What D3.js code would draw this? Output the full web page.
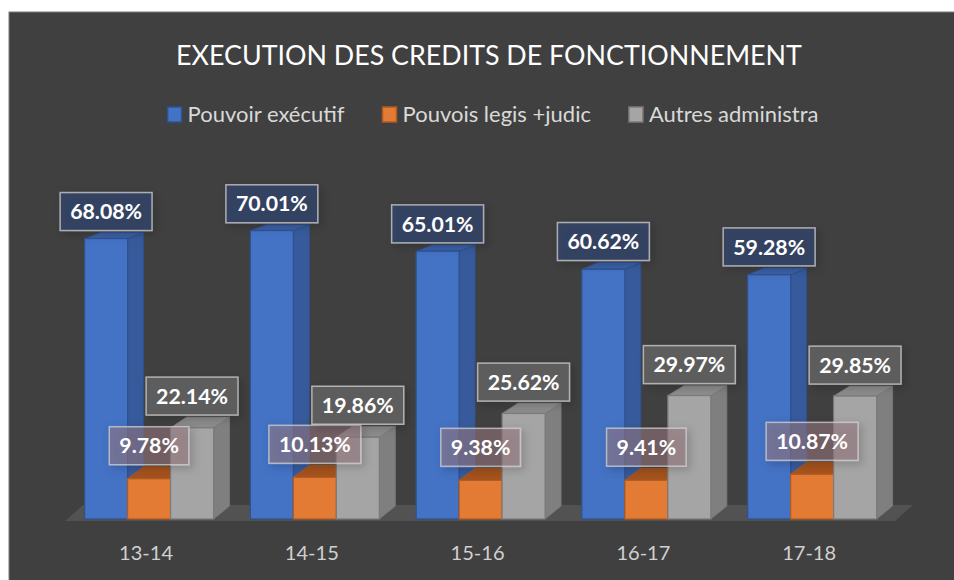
<!DOCTYPE html>
<html><head><meta charset="utf-8">
<script src="https://cdn.jsdelivr.net/npm/d3@7"></script>
<style>
html,body{margin:0;padding:0;background:#fff;}
svg{display:block;}
</style></head>
<body>
<svg id="chart" width="954" height="580"></svg>
<script>
// ---- data ----
const categories = ["13-14", "14-15", "15-16", "16-17", "17-18"];
const seriesNames = ["Pouvoir exécutif", "Pouvois legis +judic", "Autres administra"];
const executif = [68.08, 70.01, 65.01, 60.62, 59.28];
const legisJudic = [9.78, 10.13, 9.38, 9.41, 10.87];
const autres = [22.14, 19.86, 25.62, 29.97, 29.85];
const titleText = "EXECUTION DES CREDITS DE FONCTIONNEMENT";

const seriesValues = [executif, legisJudic, autres];
const FONT = "Lato, 'Open Sans', sans-serif";

const styles = [
  {front:"#4472c4", side:"#375a9c", top:"#3b60a6", stroke:"#2f528f",
   lblFill:"rgba(46,72,124,0.55)"},
  {front:"#e47b34", side:"#a9561f", top:"#a4521d", stroke:"#ae5a21",
   lblFill:"rgba(150,118,128,0.55)"},
  {front:"#a5a5a5", side:"#7f7f7f", top:"#8c8c8c", stroke:"#7b7b7b",
   lblFill:"rgba(116,116,116,0.55)"}
];

const svg = d3.select("#chart");
const defs = svg.append("defs");
const f = defs.append("filter").attr("id","shadow").attr("x","-30%").attr("y","-30%").attr("width","160%").attr("height","170%");
f.append("feDropShadow").attr("dx",3).attr("dy",3).attr("stdDeviation",4)
  .attr("flood-color","#000").attr("flood-opacity",0.3);

// background
svg.append("rect").attr("x",9).attr("y",12).attr("width",960).attr("height",580)
  .attr("fill","#404040").attr("stroke","#7a7a7a").attr("stroke-width",1);

// helper to fit font size to a measured target width
function fitSize(sample, weight, base, target){
  const t = svg.append("text").attr("font-family",FONT).attr("font-weight",weight)
    .attr("font-size",base).text(sample);
  const w = t.node().getComputedTextLength();
  t.remove();
  return base * target / w;
}
const titleSize = fitSize(titleText, 400, 30, 626);
const legendSize = fitSize(seriesNames[0], 400, 22, 157);
const axisSize = fitSize(categories[0], 400, 22, 54);
const labelSize = fitSize("68.08%", 700, 22, 72);

const cx = 489;
// title
svg.append("text").attr("x",cx).attr("y",65).attr("text-anchor","middle")
  .attr("font-family",FONT).attr("font-size",titleSize).attr("fill","#ffffff")
  .text(titleText);

// legend
const leg = svg.append("g");
let lx = 0;
seriesNames.forEach((n,i)=>{
  const g = leg.append("g").attr("transform",`translate(${lx},0)`);
  g.append("rect").attr("x",0).attr("y",107).attr("width",14).attr("height",15)
    .attr("fill",styles[i].front).attr("stroke",styles[i].stroke).attr("stroke-width",1.5);
  const t = g.append("text").attr("x",20).attr("y",122).attr("font-family",FONT)
    .attr("font-size",legendSize).attr("fill","#d9d9d9").text(n);
  const w = t.node().getComputedTextLength();
  lx += 20 + w + 38;
});
const legW = lx - 38;
leg.attr("transform",`translate(${(167+819)/2 - legW/2},0)`);

// scales
const y = d3.scaleLinear().domain([0,70]).range([519, 519 - 70*4.12]);
const x = d3.scaleBand().domain(categories).range([66.2, 895]).paddingInner(0.222).paddingOuter(0.111);
const xs = d3.scaleBand().domain(d3.range(seriesNames.length)).range([0, x.bandwidth()]);

const DX = 16;
const depthY = yy => 0.025*yy;
const yb = y(0);
const dyb = depthY(yb);

// floor
const [r0, r1] = x.range();
svg.append("polygon")
  .attr("points",[[r0-1,yb+2],[r1,yb+2],[r1+18,yb-14],[r0+17,yb-14]].map(p=>p.join(",")).join(" "))
  .attr("fill","#525252");

// bars
const barsG = svg.append("g");
const labels = [];
categories.forEach((c,ci)=>{
  seriesValues.forEach((vals,si)=>{
    const v = vals[ci];
    const x1 = x(c) + xs(si), x2 = x1 + xs.bandwidth();
    const yt = y(v);
    const dy = depthY(yt);
    const st = styles[si];
    barsG.append("polygon")
      .attr("points",[[x2,yt],[x2+DX,yt-dy],[x2+DX,yb-dyb],[x2,yb]].map(p=>p.join(",")).join(" "))
      .attr("fill",st.side).attr("stroke",st.stroke).attr("stroke-width",0.8);
    barsG.append("polygon")
      .attr("points",[[x1,yt],[x2,yt],[x2+DX,yt-dy],[x1+DX,yt-dy]].map(p=>p.join(",")).join(" "))
      .attr("fill",st.top).attr("stroke",st.stroke).attr("stroke-width",0.8);
    barsG.append("rect").attr("x",x1).attr("y",yt).attr("width",x2-x1).attr("height",yb-yt)
      .attr("fill",st.front).attr("stroke",st.stroke).attr("stroke-width",1.2);
    labels.push({cx:(x1+x2)/2, bottom: yt-dy-2, v, si});
  });
});

// data labels
const lblG = svg.append("g");
labels.forEach(l=>{
  const g = lblG.append("g");
  const r = g.append("rect");
  const t = g.append("text").attr("x",l.cx).attr("y",l.bottom-19).attr("dy","0.36em")
    .attr("text-anchor","middle").attr("font-family",FONT).attr("font-weight",700)
    .attr("font-size",labelSize).attr("fill","#ffffff").text(l.v.toFixed(2)+"%");
  const w = t.node().getComputedTextLength() + 20;
  r.attr("x",l.cx - w/2).attr("y",l.bottom-38).attr("width",w).attr("height",38)
    .attr("fill",styles[l.si].lblFill).attr("stroke","rgba(210,210,210,0.75)").attr("stroke-width",1.5)
    .attr("filter","url(#shadow)");
});

// category axis labels
svg.append("g").selectAll("text").data(categories).join("text")
  .attr("x",d=>x(d)+x.bandwidth()/2-3).attr("y",560).attr("text-anchor","middle")
  .attr("font-family",FONT).attr("font-size",axisSize).attr("fill","#d0d0d0").text(d=>d);
</script>
</body></html>
